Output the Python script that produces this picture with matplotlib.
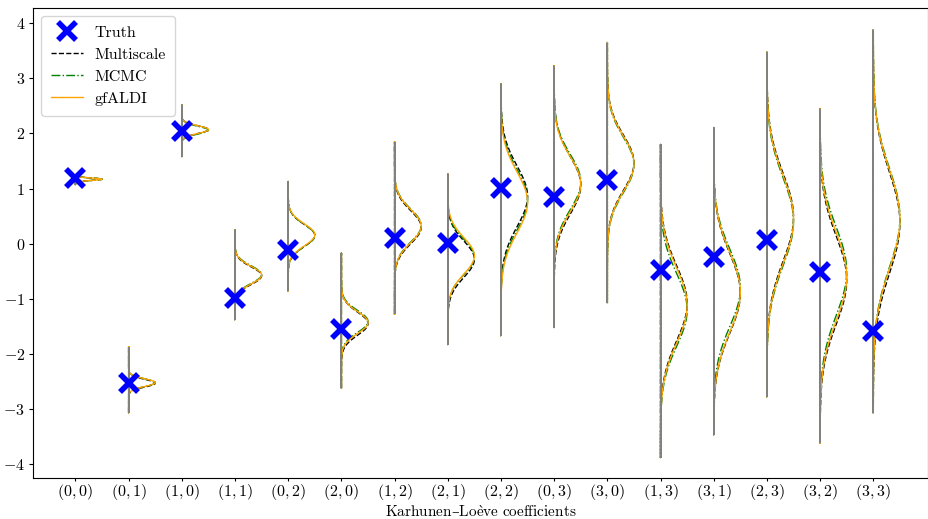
import numpy as np
import matplotlib
matplotlib.use("Agg")
import matplotlib.pyplot as plt
from matplotlib.lines import Line2D

plt.rcParams['font.family'] = ['cmr10', 'DejaVu Serif']
plt.rcParams['mathtext.fontset'] = 'cm'
plt.rcParams['axes.formatter.use_mathtext'] = True
plt.rcParams['axes.unicode_minus'] = True

# Karhunen-Loeve coefficient labels and true values
labels = ["(0, 0)", "(0, 1)", "(1, 0)", "(1, 1)", "(0, 2)", "(2, 0)", "(1, 2)", "(2, 1)",
          "(2, 2)", "(0, 3)", "(3, 0)", "(1, 3)", "(3, 1)", "(2, 3)", "(3, 2)", "(3, 3)"]
truth = [1.20, -2.52, 2.05, -0.98, -0.11, -1.54, 0.10, 0.01,
         1.01, 0.84, 1.16, -0.47, -0.24, 0.07, -0.51, -1.58]

# sample range (extent of the grey bars)
sample_min = [1.07, -3.07, 1.58, -1.38, -0.86, -2.62, -1.28, -1.83,
              -1.67, -1.52, -1.07, -3.88, -3.47, -2.78, -3.62, -3.07]
sample_max = [1.25, -1.87, 2.52, 0.25, 1.13, -0.17, 1.85, 1.27,
              2.90, 3.23, 3.65, 1.80, 2.11, 3.48, 2.45, 3.88]

# posterior mean / std for each method
gf_mean = [1.17, -2.52, 2.07, -0.57, 0.16, -1.43, 0.32, -0.22,
           0.75, 1.08, 1.45, -1.12, -0.88, 0.44, -0.60, 0.44]
gf_std = [0.022, 0.07, 0.07, 0.16, 0.20, 0.20, 0.30, 0.33,
          0.55, 0.50, 0.50, 0.68, 0.72, 0.80, 0.80, 0.90]
ms_mean = [1.17, -2.53, 2.07, -0.58, 0.15, -1.45, 0.30, -0.28,
           0.86, 1.06, 1.47, -1.08, -0.90, 0.48, -0.66, 0.38]
ms_std = [0.022, 0.07, 0.07, 0.16, 0.20, 0.21, 0.30, 0.33,
          0.55, 0.52, 0.50, 0.68, 0.72, 0.80, 0.80, 0.92]
mcmc_mean = [1.17, -2.52, 2.06, -0.56, 0.15, -1.41, 0.33, -0.24,
             0.80, 1.12, 1.43, -1.20, -0.80, 0.40, -0.50, 0.47]
mcmc_std = [0.022, 0.07, 0.07, 0.16, 0.20, 0.20, 0.30, 0.32,
            0.55, 0.50, 0.50, 0.66, 0.70, 0.80, 0.80, 0.90]

methods = [
    ("Multiscale", ms_mean, ms_std, "black", "--"),
    ("MCMC", mcmc_mean, mcmc_std, "green", "-."),
    ("gfALDI", gf_mean, gf_std, "orange", "-"),
]

pos = np.arange(1, len(labels) + 1)

fig = plt.figure(figsize=(9.29, 5.19), dpi=100)
ax = fig.add_axes([0.036, 0.079, 0.963, 0.906])

for name, mu, sd, col, ls in methods:
    stats = []
    for k in range(len(labels)):
        y = np.linspace(sample_min[k], sample_max[k], 300)
        dens = np.exp(-0.5 * ((y - mu[k]) / sd[k]) ** 2)
        stats.append(dict(coords=y, vals=dens, mean=mu[k], median=mu[k],
                          min=sample_min[k], max=sample_max[k]))
    parts = ax.violin(stats, positions=pos, widths=1.0, showmeans=False,
                      showextrema=False, showmedians=False)
    # keep only the right half of each violin
    for b, p in zip(parts['bodies'], pos):
        v = b.get_paths()[0].vertices
        v[:, 0] = np.clip(v[:, 0], p, np.inf)
        b.set_facecolor('none')
        b.set_edgecolor(col)
        b.set_linestyle(ls)
        b.set_linewidth(1.0)
        b.set_alpha(1)

ax.vlines(pos, sample_min, sample_max, color='grey', lw=1.4, zorder=3)
ax.plot(pos, truth, 'x', color='blue', ms=13, mew=4, zorder=5, label='Truth')

ax.set_xticks(pos)
ax.set_xticklabels([f"${l}$" for l in labels], fontsize=11.5)
ax.set_xlim(0.21, 17.03)
ax.set_ylim(-4.25, 4.28)
ax.set_yticks(range(-4, 5))
ax.tick_params(axis='y', labelsize=11.5, length=3, pad=3)
ax.tick_params(axis='x', length=2.5, pad=0.5)
ax.set_xlabel(r"$\mathrm{Karhunen}$–$\mathrm{Lo\grave{e}ve\ coefficients}$",
              fontsize=11, family='DejaVu Serif')
ax.xaxis.set_label_coords(0.5, -0.056)

handles = [Line2D([], [], ls='none', marker='x', color='blue', ms=13, mew=4)]
for name, mu, sd, col, ls in methods:
    handles.append(Line2D([], [], color=col, ls=ls, lw=1.0))
ax.legend(handles, ["Truth", "Multiscale", "MCMC", "gfALDI"], loc='upper left',
          fontsize=11.5, handlelength=2.0, borderpad=0.6, labelspacing=0.5,
          handletextpad=0.7, frameon=True)

plt.savefig("out.png", dpi=100)
